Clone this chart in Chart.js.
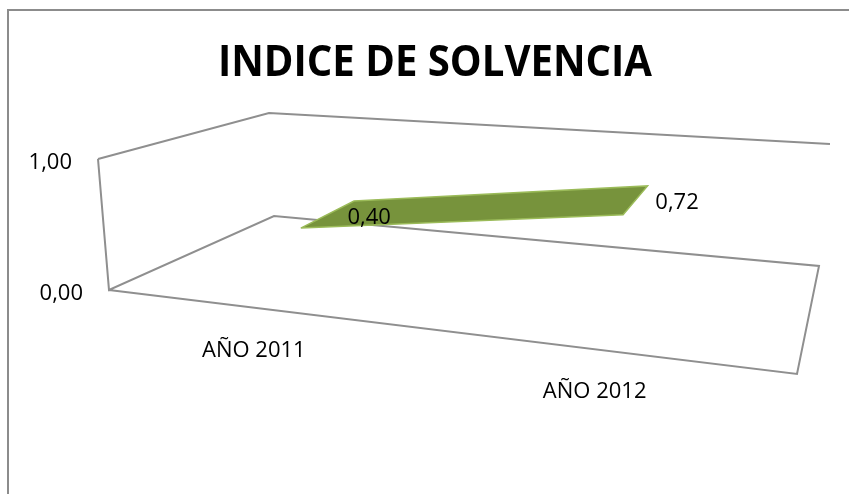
<!DOCTYPE html>
<html>
<head>
<meta charset="utf-8">
<script src="https://cdn.jsdelivr.net/npm/chart.js@4.4.0/dist/chart.umd.min.js"></script>
<style>
  html, body { margin: 0; padding: 0; background: #fff; overflow: hidden; }
  #wrap { position: relative; width: 849px; height: 494px; }
  #frame { position: absolute; left: 7px; top: 9px; width: 900px; height: 600px;
           border-left: 2px solid #8c8c8c; border-top: 2px solid #8c8c8c; pointer-events: none; }
</style>
</head>
<body>
<div id="wrap">
  <canvas id="chart" width="849" height="494"></canvas>
  <div id="frame"></div>
</div>
<script>
const chartTitle = 'INDICE DE SOLVENCIA';
const categories = ['AÑO 2011', 'AÑO 2012'];
const solvencia = [0.40, 0.72];
const yTicks = [0, 1];

// --- 3D BOX (excel style perspective), corners in canvas px ---
const BOX = {
    fl0: [109, 290], fl1: [98, 159],
    fr0: [797, 374], fr1: [813, 216],
    bl0: [274, 216], bl1: [269, 113],
    br0: [819, 266], br1: [830, 144]
};
const PERSP = 1.25;           // foreshortening along the category axis
const RIBBON = [0.36, 0.75];  // depth of the line ribbon (front, back)

const lerp = (a, b, t) => [a[0] + (b[0] - a[0]) * t, a[1] + (b[1] - a[1]) * t];

// u: category position 0..1, v: value 0..1, z: depth 0 (front) .. 1 (back)
function project(u, v, z) {
    const t = u / (u + PERSP * (1 - u));
    const front = lerp(lerp(BOX.fl0, BOX.fl1, v), lerp(BOX.fr0, BOX.fr1, v), t);
    const back = lerp(lerp(BOX.bl0, BOX.bl1, v), lerp(BOX.br0, BOX.br1, v), t);
    const p = lerp(front, back, z);
    return { x: p[0], y: p[1] };
}

const yMin = Math.min(...yTicks), yMax = Math.max(...yTicks);
const vOf = val => (val - yMin) / (yMax - yMin);
const catU = i => (i + 0.5) / categories.length;
const fmt = v => v.toFixed(2).replace('.', ',');

// ribbon outline: front edge left->right, back edge right->left
const ribbon = solvencia.map((val, i) => project(catU(i), vOf(val), RIBBON[0]));
solvencia.map((val, i) => project(catU(i), vOf(val), RIBBON[1])).reverse().forEach(p => ribbon.push(p));
ribbon.push(ribbon[0]);

// axis box edges
const floorEdges = [
    project(0, 1, 0), project(0, 0, 0), project(0, 0, 1),
    project(1, 0, 1), project(1, 0, 0), project(0, 0, 0)
];
const topEdges = [project(0, 1, 0), project(0, 1, 1), project(1, 1, 1)];

// --- TEXT ---
const labels3d = {
    id: 'labels3d',
    afterDraw(chart) {
        const { ctx, scales: { x, y } } = chart;
        const px = p => [x.getPixelForValue(p.x), y.getPixelForValue(p.y)];
        ctx.save();
        ctx.fillStyle = '#000';
        ctx.textBaseline = 'alphabetic';

        // title: condensed look (calibri-like), ~434px wide
        ctx.save();
        ctx.font = 'bold 43px "Open Sans"';
        ctx.textAlign = 'center';
        const sx = 434 / ctx.measureText(chartTitle).width;
        ctx.translate(435, 76);
        ctx.scale(sx, 1);
        ctx.fillText(chartTitle, 0, 0);
        ctx.restore();

        ctx.font = '22px "Open Sans"';
        ctx.textAlign = 'right';
        yTicks.forEach(t => {
            const [a, b] = px(project(0, vOf(t), 0));
            ctx.fillText(fmt(t), a - 26, b + 10);
        });

        ctx.textAlign = 'center';
        categories.forEach((c, i) => {
            const [a, b] = px(project(catU(i), 0, 0));
            ctx.fillText(c, a, b + 49);
        });

        ctx.textAlign = 'left';
        const mid = (RIBBON[0] + RIBBON[1]) / 2;
        solvencia.forEach((val, i) => {
            const [a, b] = px(project(catU(i), vOf(val), mid));
            ctx.fillText(fmt(val), a + 20, b + 9);
        });
        ctx.restore();
    }
};

new Chart(document.getElementById('chart'), {
    type: 'scatter',
    data: {
        datasets: [
            {
                data: ribbon, showLine: true, fill: 'shape', order: 0,
                backgroundColor: '#77933c', borderColor: '#9bbb59', borderWidth: 1.5,
                pointRadius: 0, tension: 0
            },
            {
                data: floorEdges, showLine: true, order: 1,
                borderColor: '#8f8f8f', borderWidth: 2, pointRadius: 0, tension: 0
            },
            {
                data: topEdges, showLine: true, order: 1,
                borderColor: '#8f8f8f', borderWidth: 2, pointRadius: 0, tension: 0
            }
        ]
    },
    options: {
        responsive: false, animation: false, events: [],
        layout: { padding: 0 },
        scales: {
            x: { type: 'linear', min: 0, max: 849, display: false },
            y: { type: 'linear', min: 0, max: 494, reverse: true, display: false }
        },
        plugins: { legend: { display: false }, tooltip: { enabled: false }, title: { display: false } }
    },
    plugins: [labels3d]
});
</script>
</body>
</html>
